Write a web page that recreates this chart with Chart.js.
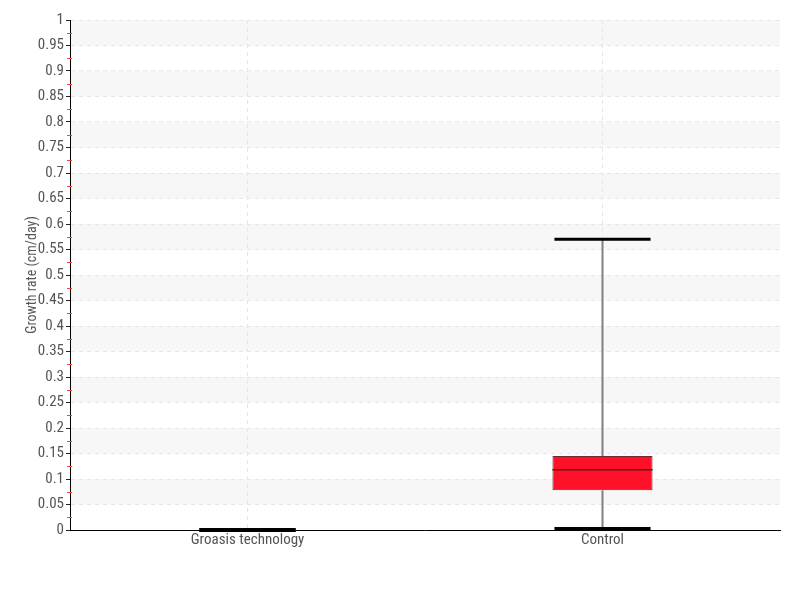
<!DOCTYPE html>
<html><head><meta charset="utf-8">
<script src="https://cdn.jsdelivr.net/npm/chart.js@4/dist/chart.umd.min.js"></script>
<style>html,body{margin:0;padding:0;background:#fff}</style>
</head><body>
<canvas id="c" width="800" height="600"></canvas>
<script>
const categories = ['Groasis technology', 'Control'];
const whiskerMin = [0, 0.003];
const q1 = [0, 0.078];
const median = [0, 0.118];
const q3 = [0, 0.145];
const whiskerMax = [0, 0.57];
const yTicks = [0, 0.05, 0.1, 0.15, 0.2, 0.25, 0.3, 0.35, 0.4, 0.45, 0.5, 0.55, 0.6, 0.65, 0.7, 0.75, 0.8, 0.85, 0.9, 0.95, 1];
const yMinorTicks = [0.025, 0.075, 0.125, 0.175, 0.225, 0.275, 0.325, 0.375, 0.425, 0.475, 0.525, 0.575, 0.625, 0.675, 0.725, 0.775, 0.825, 0.875, 0.925, 0.975];
const yTitle = 'Growth rate (cm/day)';

const FONT = "'Liberation Sans Narrow', 'Roboto Condensed', 'DejaVu Sans Condensed', sans-serif";

const boxPlugin = {
  id: 'boxplot',
  beforeDraw(chart) {
    const {ctx, chartArea: a, scales: {y}} = chart;
    ctx.save();
    ctx.fillStyle = '#f7f7f7';
    for (let i = 1; i < yTicks.length - 1; i += 2) {
      const top = y.getPixelForValue(yTicks[i + 1]);
      const bot = y.getPixelForValue(yTicks[i]);
      ctx.fillRect(a.left, top, a.right - a.left, bot - top);
    }
    ctx.restore();
  },
  afterDatasetsDraw(chart) {
    const {ctx, scales: {x, y}} = chart;
    const meta = chart.getDatasetMeta(0);
    ctx.save();
    categories.forEach((c, i) => {
      const cx = x.getPixelForValue(i);
      const bw = meta.data[i].width;
      const capHalf = bw * 0.48;
      ctx.strokeStyle = '#808080';
      ctx.lineWidth = 2;
      ctx.beginPath();
      ctx.moveTo(cx, y.getPixelForValue(q3[i]));
      ctx.lineTo(cx, y.getPixelForValue(whiskerMax[i]));
      ctx.moveTo(cx, y.getPixelForValue(q1[i]));
      ctx.lineTo(cx, y.getPixelForValue(whiskerMin[i]));
      ctx.stroke();
      if (q3[i] > q1[i]) {
        ctx.strokeStyle = '#5a1018';
        ctx.lineWidth = 1.5;
        ctx.beginPath();
        ctx.moveTo(cx - bw / 2, y.getPixelForValue(median[i]));
        ctx.lineTo(cx + bw / 2, y.getPixelForValue(median[i]));
        ctx.stroke();
      }
      ctx.strokeStyle = '#000';
      const same = whiskerMax[i] === whiskerMin[i];
      ctx.lineWidth = same ? 4 : 3;
      [whiskerMin[i], whiskerMax[i]].forEach(v => {
        const py = y.getPixelForValue(v);
        ctx.beginPath();
        ctx.moveTo(cx - capHalf, py);
        ctx.lineTo(cx + capHalf, py);
        ctx.stroke();
      });
    });
    ctx.restore();
  },
  afterDraw(chart) {
    const {ctx, scales: {y}} = chart;
    ctx.save();
    ctx.strokeStyle = '#ff3b3b';
    ctx.lineWidth = 1;
    yMinorTicks.forEach(v => {
      const py = Math.round(y.getPixelForValue(v)) + 0.5;
      ctx.beginPath();
      ctx.moveTo(y.right - 3, py);
      ctx.lineTo(y.right + 2, py);
      ctx.stroke();
    });
    ctx.restore();
  }
};

new Chart(document.getElementById('c'), {
  type: 'bar',
  data: {
    labels: categories,
    datasets: [{
      data: categories.map((c, i) => [q1[i], q3[i]]),
      backgroundColor: '#ff1029',
      borderColor: '#6d2a33',
      borderWidth: 1,
      borderSkipped: false,
      barPercentage: 0.282,
      categoryPercentage: 1
    }]
  },
  options: {
    responsive: false,
    animation: false,
    devicePixelRatio: 1,
    layout: {padding: {left: 20, right: 20, top: 20, bottom: 50}},
    plugins: {legend: {display: false}, tooltip: {enabled: false}},
    scales: {
      x: {
        offset: true,
        grid: {offset: false, color: '#e6e6e6', drawTicks: false},
        border: {color: '#000', width: 1, dash: [4, 4]},
        ticks: {color: '#555', font: {family: FONT, size: 15}, padding: 1},
        afterFit(s) { s.height = 20; }
      },
      y: {
        min: 0, max: 1,
        afterBuildTicks(s) { s.ticks = yTicks.map(v => ({value: v})); },
        grid: {color: '#e6e6e6', tickColor: '#222', tickLength: 4},
        border: {color: '#000', width: 1, dash: [4, 4]},
        ticks: {
          color: '#555', font: {family: FONT, size: 15}, padding: 2,
          callback: v => String(parseFloat(Number(v).toFixed(3)))
        },
        title: {display: true, text: yTitle, color: '#555', font: {family: FONT, size: 14}},
        afterFit(s) { s.width = 50; }
      }
    }
  },
  plugins: [boxPlugin]
});
</script>
</body></html>
